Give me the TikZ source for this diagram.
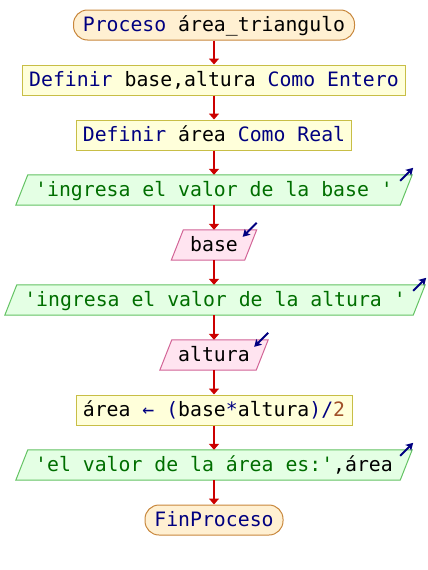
\documentclass[tikz,border=0pt]{standalone}
\usepackage{fontspec}
\setmonofont{DejaVu Sans Mono}
\usetikzlibrary{arrows.meta,backgrounds}

\definecolor{kw}{RGB}{0,0,128}
\definecolor{str}{RGB}{0,110,0}
\definecolor{num}{RGB}{160,80,40}
\definecolor{termfill}{RGB}{255,240,210}
\definecolor{termline}{RGB}{200,135,60}
\definecolor{procfill}{RGB}{255,255,218}
\definecolor{procline}{RGB}{200,190,70}
\definecolor{outfill}{RGB}{228,255,228}
\definecolor{outline}{RGB}{100,195,100}
\definecolor{infill}{RGB}{255,228,240}
\definecolor{inline}{RGB}{210,100,150}
\definecolor{flowred}{RGB}{204,0,0}

% parallelogram drawn behind a text node, top edge leaning right
\newcommand\ioshape[2]{%
  \begin{scope}[on background layer]
    \draw[#2] ([xshift=6pt]#1.north west) -- ([xshift=6pt]#1.north east)
      -- ([xshift=-6pt]#1.south east) -- ([xshift=-6pt]#1.south west) -- cycle;
  \end{scope}}
% direction marks for output (up-right) and input (down-left)
\newcommand\outmark[1]{\draw[dirmark] ([xshift=-6pt,yshift=-6pt]#1.north east) -- ([xshift=7pt,yshift=7pt]#1.north east);}
\newcommand\inmark[1]{\draw[dirmark] ([xshift=6pt,yshift=7pt]#1.north east) -- ([xshift=-8pt,yshift=-7pt]#1.north east);}

\begin{document}
\begin{tikzpicture}[x=1pt,y=-1pt,
  font=\ttfamily\fontsize{19.8}{22}\selectfont,
  every node/.style={inner sep=0pt, minimum height=30pt, text height=16pt, text depth=3pt},
  term/.style={draw=termline, fill=termfill, line width=1pt, rounded corners=14pt},
  proc/.style={draw=procline, fill=procfill, line width=1pt},
  outshape/.style={draw=outline, fill=outfill, line width=1pt},
  inshape/.style={draw=inline, fill=infill, line width=1pt},
  flow/.style={draw=flowred, line width=2pt, -{Triangle[width=10pt,length=6pt]}},
  dirmark/.style={draw=kw, line width=2pt, -{Stealth[length=7pt,width=8pt,inset=1.5pt]}}]

\useasboundingbox (0,0) rectangle (428,570);

\node[term, minimum width=281pt] (start) at (214,25)
  {\textcolor{kw}{Proceso} área\_triangulo};
\node[proc, minimum width=383pt] (def1) at (214,80)
  {\textcolor{kw}{Definir} base,altura \textcolor{kw}{Como Entero}};
\node[proc, minimum width=275pt] (def2) at (214,135)
  {\textcolor{kw}{Definir} área \textcolor{kw}{Como Real}};
\node[minimum width=384pt] (out1) at (214,190)
  {\textcolor{str}{'ingresa el valor de la base '}};
\node[minimum width=73pt] (in1) at (214,245) {base};
\node[minimum width=408pt] (out2) at (215,300)
  {\textcolor{str}{'ingresa el valor de la altura '}};
\node[minimum width=96pt] (in2) at (214,355) {altura};
\node[proc, minimum width=276pt] (asg) at (214,410)
  {área \textcolor{kw}{←} \textcolor{kw}{(}base\textcolor{kw}{*}altura\textcolor{kw}{)/}\textcolor{num}{2}};
\node[minimum width=384pt] (out3) at (214,465)
  {\textcolor{str}{'el valor de la área es:'},área};
\node[term, minimum width=138pt] (fin) at (214,520) {\textcolor{kw}{FinProceso}};

\ioshape{out1}{outshape}
\ioshape{in1}{inshape}
\ioshape{out2}{outshape}
\ioshape{in2}{inshape}
\ioshape{out3}{outshape}

\outmark{out1}
\inmark{in1}
\outmark{out2}
\inmark{in2}
\outmark{out3}

\draw[flow] (start.south) -- (def1.north);
\draw[flow] (def1.south) -- (def2.north);
\draw[flow] (def2.south) -- (out1.north);
\draw[flow] (out1.south) -- (in1.north);
\draw[flow] (in1.south) -- (out2.north -| in1.south);
\draw[flow] (out2.south -| in1.south) -- (in2.north);
\draw[flow] (in2.south) -- (asg.north);
\draw[flow] (asg.south) -- (out3.north);
\draw[flow] (out3.south) -- (fin.north);
\end{tikzpicture}
\end{document}
